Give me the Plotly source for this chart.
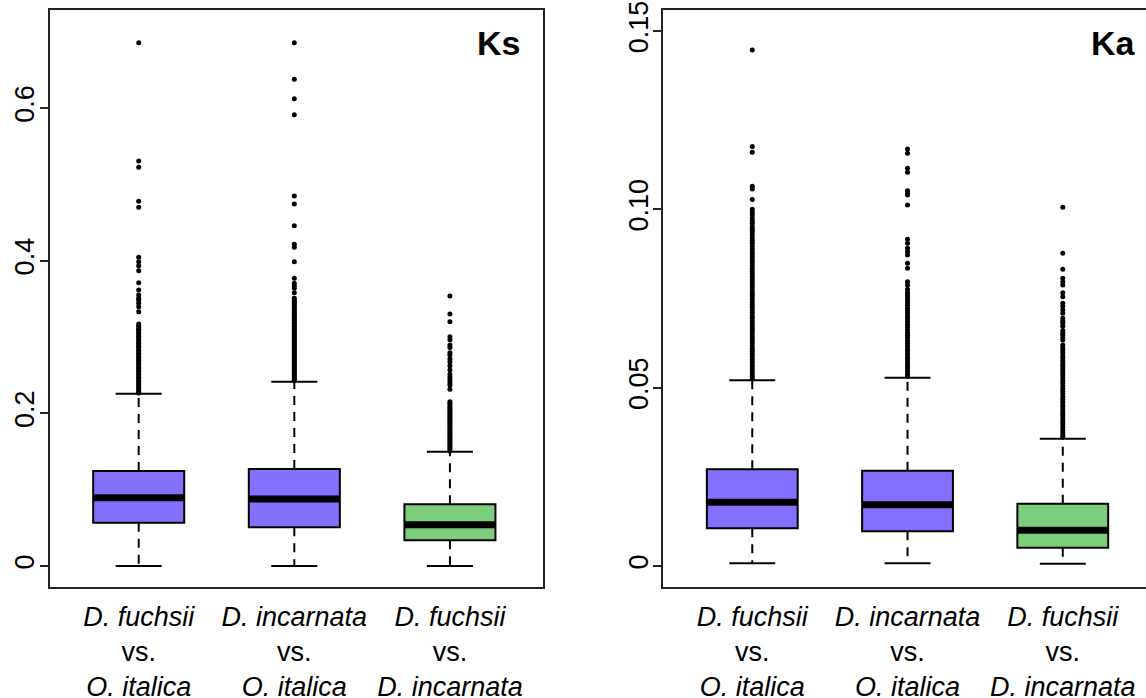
import plotly.graph_objects as go

# ---- categories / labels ----
categories = [1, 2, 3]
category_labels = [
    "<i>D. fuchsii</i><br>vs.<br><i>O. italica</i>",
    "<i>D. incarnata</i><br>vs.<br><i>O. italica</i>",
    "<i>D. fuchsii</i><br>vs.<br><i>D. incarnata</i>",
]
box_colors = ["#8470FF", "#8470FF", "#7CCD7C"]

# ---- Ks summary statistics ----
ks_lower = [0.0, 0.0, 0.0]
ks_q1 = [0.0568, 0.0507, 0.0336]
ks_median = [0.0895, 0.0878, 0.0541]
ks_q3 = [0.1245, 0.1271, 0.0808]
ks_upper = [0.2258, 0.2415, 0.1498]

ks_out_1 = [0.6856, 0.5306, 0.5223, 0.4778, 0.4699, 0.4044, 0.3987, 0.3934,
            0.3869, 0.3712, 0.3616, 0.3550, 0.3507, 0.3485, 0.3442, 0.3397,
            0.3332, 0.3170, 0.3147, 0.3131, 0.3102, 0.3088, 0.3059, 0.3041,
            0.3013, 0.2996, 0.2968, 0.2951, 0.2922, 0.2907, 0.2879, 0.2861,
            0.2834, 0.2817, 0.2788, 0.2771, 0.2746, 0.2724, 0.2698, 0.2681,
            0.2653, 0.2636, 0.2608, 0.2591, 0.2563, 0.2545, 0.2519, 0.2501,
            0.2473, 0.2456, 0.2428, 0.2411, 0.2384, 0.2366, 0.2338, 0.2321,
            0.2297, 0.2280, 0.2266]
ks_out_2 = [0.6856, 0.6376, 0.6122, 0.5913, 0.4847, 0.4743, 0.4458, 0.4214,
            0.4175, 0.3987, 0.3769, 0.3704, 0.3668, 0.3638, 0.3581, 0.3507,
            0.3485, 0.3462, 0.3441, 0.3418, 0.3396, 0.3371, 0.3353, 0.3327,
            0.3309, 0.3284, 0.3262, 0.3240, 0.3219, 0.3194, 0.3176, 0.3151,
            0.3133, 0.3106, 0.3088, 0.3063, 0.3045, 0.3019, 0.3001, 0.2976,
            0.2958, 0.2932, 0.2914, 0.2889, 0.2871, 0.2846, 0.2827, 0.2802,
            0.2784, 0.2759, 0.2741, 0.2716, 0.2697, 0.2672, 0.2654, 0.2629,
            0.2611, 0.2586, 0.2567, 0.2543, 0.2524, 0.2499, 0.2481, 0.2458,
            0.2440, 0.2426]
ks_out_3 = [0.3537, 0.3301, 0.3201, 0.3004, 0.2965, 0.2895, 0.2862, 0.2795,
            0.2764, 0.2712, 0.2677, 0.2625, 0.2568, 0.2512, 0.2472, 0.2437,
            0.2401, 0.2371, 0.2315, 0.2153, 0.2131, 0.2109, 0.2084, 0.2063,
            0.2040, 0.2018, 0.1996, 0.1973, 0.1951, 0.1929, 0.1906, 0.1884,
            0.1862, 0.1839, 0.1817, 0.1795, 0.1772, 0.1750, 0.1728, 0.1705,
            0.1683, 0.1661, 0.1638, 0.1616, 0.1594, 0.1571, 0.1549, 0.1527,
            0.1508]

# ---- Ka summary statistics ----
ka_lower = [0.00075, 0.00075, 0.00065]
ka_q1 = [0.01056, 0.00972, 0.00514]
ka_median = [0.01785, 0.01719, 0.0100]
ka_q3 = [0.0271, 0.0267, 0.01747]
ka_upper = [0.0521, 0.0528, 0.0357]

ka_out_1 = [0.1447, 0.1176, 0.1160, 0.1065, 0.1057, 0.1028,
            0.1000, 0.0992, 0.0985, 0.0976, 0.0968, 0.0961, 0.0952, 0.0944,
            0.0937, 0.0929, 0.0920, 0.0913, 0.0905, 0.0897, 0.0889, 0.0881,
            0.0874, 0.0866, 0.0857, 0.0850, 0.0842, 0.0834, 0.0826, 0.0819,
            0.0811, 0.0803, 0.0795, 0.0788, 0.0780, 0.0772, 0.0764, 0.0757,
            0.0749, 0.0741, 0.0733, 0.0726, 0.0718, 0.0710, 0.0702, 0.0695,
            0.0687, 0.0679, 0.0671, 0.0664, 0.0656, 0.0648, 0.0640, 0.0633,
            0.0625, 0.0617, 0.0609, 0.0602, 0.0594, 0.0586, 0.0578, 0.0571,
            0.0563, 0.0555, 0.0547, 0.0540, 0.0532, 0.0525]
ka_out_2 = [0.1169, 0.1157, 0.1115, 0.1104, 0.1052, 0.1045, 0.1040, 0.1012,
            0.0916, 0.0905, 0.0891, 0.0881, 0.0872, 0.0849, 0.0835, 0.0797,
            0.0788, 0.0776, 0.0766, 0.0760, 0.0753,
            0.0746, 0.0739, 0.0731, 0.0723, 0.0716, 0.0708, 0.0700, 0.0693,
            0.0685, 0.0677, 0.0670, 0.0662, 0.0654, 0.0647, 0.0639, 0.0631,
            0.0624, 0.0616, 0.0608, 0.0601, 0.0593, 0.0585, 0.0578, 0.0570,
            0.0562, 0.0555, 0.0547, 0.0539, 0.0532]
ka_out_3 = [0.1006, 0.0877, 0.0832, 0.0807, 0.0797, 0.0788, 0.0766, 0.0755,
            0.0737, 0.0728, 0.0718, 0.0709, 0.0695, 0.0686, 0.0681, 0.0672,
            0.0660, 0.0653, 0.0648, 0.0640, 0.0634,
            0.0620, 0.0612, 0.0605, 0.0597, 0.0589, 0.0582, 0.0574, 0.0566,
            0.0559, 0.0551, 0.0543, 0.0536, 0.0528, 0.0520, 0.0513, 0.0505,
            0.0497, 0.0490, 0.0482, 0.0474, 0.0467, 0.0459, 0.0451, 0.0444,
            0.0436, 0.0428, 0.0421, 0.0413, 0.0405, 0.0398, 0.0390, 0.0382,
            0.0375, 0.0367, 0.0362]

ks_ticks = [0, 0.2, 0.4, 0.6]
ks_ticktext = ["0", "0.2", "0.4", "0.6"]
ka_ticks = [0, 0.05, 0.10, 0.15]
ka_ticktext = ["0", "0.05", "0.10", "0.15"]

FONT = "Liberation Sans, Arial, Helvetica, sans-serif"
BOX_HALF = 0.2925
CAP_HALF = 0.148
LINE = "#000000"

fig = go.Figure()
shapes = []


def add_panel(xref, yref, q1, med, q3, lo, hi, outliers):
    for i, c in enumerate(categories):
        # dashed whiskers
        for a, b in ((q3[i], hi[i]), (q1[i], lo[i])):
            shapes.append(dict(type="line", xref=xref, yref=yref, x0=c, x1=c,
                               y0=a, y1=b,
                               line=dict(color=LINE, width=2, dash="9px,7px")))
        # whisker caps
        for v in (hi[i], lo[i]):
            shapes.append(dict(type="line", xref=xref, yref=yref,
                               x0=c - CAP_HALF, x1=c + CAP_HALF, y0=v, y1=v,
                               line=dict(color=LINE, width=2)))
        # box
        shapes.append(dict(type="rect", xref=xref, yref=yref,
                           x0=c - BOX_HALF, x1=c + BOX_HALF, y0=q1[i], y1=q3[i],
                           fillcolor=box_colors[i],
                           line=dict(color=LINE, width=2)))
        # median
        shapes.append(dict(type="line", xref=xref, yref=yref,
                           x0=c - BOX_HALF, x1=c + BOX_HALF, y0=med[i], y1=med[i],
                           line=dict(color=LINE, width=7)))
        # outliers
        fig.add_trace(go.Scatter(x=[c] * len(outliers[i]), y=outliers[i],
                                 mode="markers", xaxis=xref, yaxis=yref,
                                 marker=dict(color="black", size=5),
                                 showlegend=False, hoverinfo="y"))


add_panel("x", "y", ks_q1, ks_median, ks_q3, ks_lower, ks_upper,
          [ks_out_1, ks_out_2, ks_out_3])
add_panel("x2", "y2", ka_q1, ka_median, ka_q3, ka_lower, ka_upper,
          [ka_out_1, ka_out_2, ka_out_3])

y_dom = [0.1586, 0.98567]
xaxis_common = dict(showline=True, mirror=True, linewidth=2, linecolor="#222222",
                    ticks="", tickvals=categories, ticktext=category_labels,
                    tickfont=dict(family=FONT, size=27, color="black"),
                    ticklabelstandoff=4, automargin=False,
                    showgrid=False, zeroline=False, fixedrange=True)
yaxis_common = dict(showline=True, linewidth=2, linecolor="#222222",
                    ticks="outside", ticklen=8, tickwidth=2, tickcolor="#222222",
                    tickangle=-90, ticklabelstandoff=-5, automargin=False,
                    tickfont=dict(family=FONT, size=27, color="black"),
                    showgrid=False, zeroline=False, fixedrange=True,
                    domain=y_dom)

fig.update_layout(
    width=1146, height=698,
    margin=dict(l=0, r=0, t=0, b=0, autoexpand=False),
    paper_bgcolor="white", plot_bgcolor="white",
    shapes=shapes,
    xaxis=dict(domain=[0.04363, 0.47408], range=[0.43, 3.60], anchor="y",
               **xaxis_common),
    yaxis=dict(range=[-0.0279, 0.7284], anchor="x", mirror=True,
               tickvals=ks_ticks, ticktext=ks_ticktext, **yaxis_common),
    xaxis2=dict(domain=[0.5788, 1.0], range=[0.427, 3.536], anchor="y2",
                **xaxis_common),
    yaxis2=dict(range=[-0.00597, 0.1559], anchor="x2", mirror=False,
                tickvals=ka_ticks, ticktext=ka_ticktext, **yaxis_common),
    annotations=[
        dict(text="<b>Ks</b>", xref="paper", yref="paper", x=522 / 1146,
             y=1 - 43 / 698, xanchor="right", yanchor="middle", showarrow=False,
             font=dict(family=FONT, size=34, color="black")),
        dict(text="<b>Ka</b>", xref="paper", yref="paper", x=1138 / 1146,
             y=1 - 43 / 698, xanchor="right", yanchor="middle", showarrow=False,
             font=dict(family=FONT, size=34, color="black")),
    ],
)

fig.write_html("out.html")
